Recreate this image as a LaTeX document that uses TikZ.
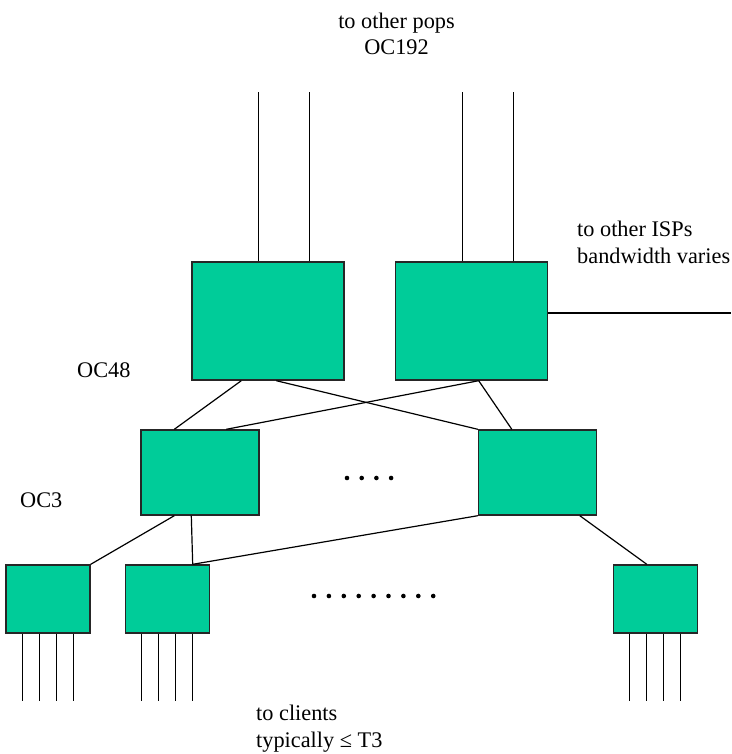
\documentclass[tikz,border=0pt]{standalone}
\usepackage{fontspec}
\setmainfont{Liberation Serif}
\usepackage{tikz}
\usetikzlibrary{positioning}
\definecolor{router}{RGB}{0,204,153}
\tikzset{
    box/.style={draw=black!85, line width=1.4pt, fill=router, inner sep=0pt},
    popbox/.style={box, minimum width=152pt, minimum height=118pt},
    midbox/.style={box, minimum width=118pt, minimum height=85pt},
    edgebox/.style={box, minimum width=84pt, minimum height=68pt},
    link/.style={draw=black, line width=1.2pt},
    note/.style={font=\fontsize{22.3}{26.5}\selectfont, inner sep=0pt}
}

\begin{document}
\begin{tikzpicture}[x=1pt, y=-1pt]
        \useasboundingbox (0,0) rectangle (731,754);
        % Nodes
        \node (popA) [popbox] at (268,321) {};
        \node (popB) [popbox, right=50pt of popA] {};
        \node (midA) [midbox] at (200,472.5) {};
        \node (midB) [midbox] at (537.5,472.5) {};
        \node (cA) [edgebox] at (48,599) {};
        \node (cB) [edgebox, right=34pt of cA] {};
        \node (cC) [edgebox] at (655.5,599) {};
        \coordinate (isp) at (731,313);

        % Labels
        \node (pops) [note, align=center, anchor=base] at (396.5,55) {to other pops\\OC192};
        \node (isps) [note, align=left, anchor=base west] at (577,263) {to other ISPs\\bandwidth varies};
        \node (oc48) [note, anchor=base west] at (77,377) {OC48};
        \node (oc3) [note, anchor=base west] at (20,507) {OC3};
        \node (clients) [note, align=left, anchor=base west] at (256,747) {to clients\\typically ≤ T3};

        % Links
        \foreach \n in {popA,popB}
            \foreach \dx in {67.5,118.5}
                \draw [link] ([xshift=\dx pt]\n.north west) -- ++(0,-169);
        \draw [link] ([yshift=8pt]popB.east) -- (isp);
        \draw [link] ([xshift=50pt]popA.south west) -- ([xshift=34pt]midA.north west);
        \draw [link] ([xshift=85pt]popA.south west) -- (midB.north west);
        \draw [link] ([xshift=84pt]popB.south west) -- ([xshift=86pt]midA.north west);
        \draw [link] ([xshift=84pt]popB.south west) -- ([xshift=34pt]midB.north west);
        \draw [link] ([xshift=34pt]midA.south west) -- (cA.north east);
        \draw [link] ([xshift=51pt]midA.south west) -- ([xshift=68pt]cB.north west);
        \draw [link] (midB.south west) -- ([xshift=68pt]cB.north west);
        \draw [link] ([xshift=102pt]midB.south west) -- ([xshift=34pt]cC.north west);

        % Client lines
        \foreach \n in {cA,cB,cC}
            \foreach \dx in {17,34,51,68}
                \draw [link] ([xshift=\dx pt]\n.south west) -- ++(0,67);

        % Dots
        \foreach \i in {0,...,3}
            \fill ({347+14.7*\i},478) circle (2.3pt);
        \foreach \i in {0,...,8}
            \fill ({314+14.9*\i},596) circle (2.3pt);
    \end{tikzpicture}
\end{document}
